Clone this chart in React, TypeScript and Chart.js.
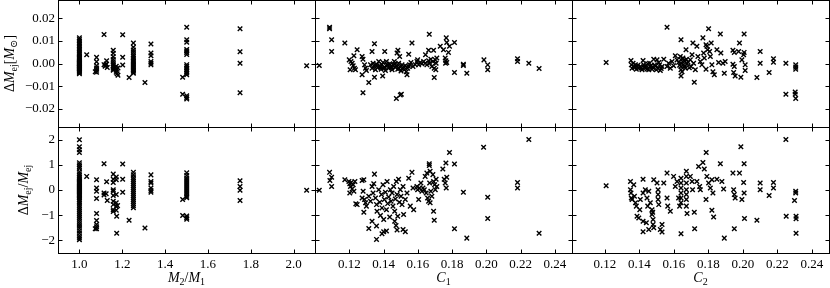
import React, { useEffect, useRef } from "react";
import { Chart, registerables } from "chart.js";
Chart.register(...registerables);

type Pt = [number, number];

// ---- data: mass ratio M2/M1 vs absolute ejecta-mass difference
const ratioAbsPts: Pt[] = [
  [1.0,0.0113],[1.0,0.0106],[1.0,0.0099],[1.0,0.0092],[1.0,0.0085],[1.0,0.0078],[1.0,0.0071],[1.0,0.0064],[1.0,0.0057],[1.0,0.005],[1.0,0.0044],[1.0,0.0038],[1.0,0.0032],[1.0,0.0027],[1.0,0.0022],[1.0,0.0018],[1.0,0.0014],[1.0,0.001],[1.0,0.0006],[1.0,0.0003],[1.0,0],[1.0,-0.0003],[1.0,-0.0006],[1.0,-0.0009],[1.0,-0.0012],[1.0,-0.0015],[1.0,-0.0018],[1.0,-0.0021],[1.0,-0.0024],[1.0,-0.0028],[1.0,-0.0032],[1.0,-0.0036],[1.0,-0.004],[1.0,-0.0045],
  [1.034,0.0039],
  [1.08,0.0027],[1.08,0.0008],[1.08,-0.001],[1.08,-0.002],[1.08,-0.003],[1.08,-0.0038],[1.074,-0.0036],
  [1.115,0.0128],[1.115,-0.0005],[1.12,-0.0012],[1.127,0.0012],[1.125,-0.0002],[1.13,-0.0018],[1.122,-0.0008],
  [1.158,0.0058],[1.158,0.0045],[1.158,0.003],[1.158,0.0018],[1.158,0.0008],[1.158,-0.0002],[1.158,-0.001],[1.158,-0.0018],[1.158,-0.0025],[1.158,-0.003],
  [1.172,-0.0012],[1.172,-0.0022],[1.172,-0.003],[1.172,-0.0038],[1.176,-0.0045],[1.18,-0.0052],[1.18,-0.002],
  [1.202,0.0127],[1.202,0.0028],[1.202,-0.0007],
  [1.232,-0.0062],
  [1.252,0.009],[1.252,0.0072],[1.252,0.006],[1.252,0.005],[1.252,0.004],[1.252,0.0032],[1.252,0.0024],[1.252,0.0016],[1.252,0.001],[1.252,0.0004],[1.252,-0.0002],[1.252,-0.0008],[1.252,-0.0014],[1.252,-0.002],[1.252,-0.0026],[1.252,-0.0032],[1.252,-0.0038],[1.252,-0.0043],
  [1.306,-0.0084],
  [1.334,0.0086],[1.334,0.0046],[1.334,0.0034],[1.334,0.0009],[1.334,0.0001],[1.334,-0.0006],
  [1.482,-0.0061],[1.482,-0.0136],
  [1.501,0.016],[1.501,0.0105],[1.501,0.0094],[1.501,0.0062],[1.501,0.0055],[1.501,0.0048],[1.501,0.004],[1.501,-0.0005],[1.501,-0.0012],[1.501,-0.002],[1.501,-0.0028],[1.501,-0.0035],[1.501,-0.0042],[1.501,-0.005],[1.501,-0.0142],[1.501,-0.015],[1.501,-0.0157],
  [1.75,0.0153],[1.75,0.0052],[1.75,0.0001],[1.75,-0.0129],
  [2.061,-0.001],
];

// ---- mass ratio vs relative ejecta-mass difference
const ratioRelPts: Pt[] = [
  [1.0,1.99],[1.0,1.72],[1.0,1.6],[1.0,1.49],[1.0,1.08],[1.0,1.0],[1.0,0.92],[1.0,0.85],[1.0,0.72],[1.0,0.64],[1.0,0.56],[1.0,0.5],[1.0,0.45],[1.0,0.4],[1.0,0.35],[1.0,0.3],[1.0,0.26],[1.0,0.22],[1.0,0.18],[1.0,0.14],[1.0,0.1],[1.0,0.06],[1.0,0.02],[1.0,-0.02],[1.0,-0.06],[1.0,-0.1],[1.0,-0.14],[1.0,-0.18],[1.0,-0.22],[1.0,-0.27],[1.0,-0.32],[1.0,-0.38],[1.0,-0.45],[1.0,-0.52],[1.0,-0.6],[1.0,-0.68],[1.0,-0.76],[1.0,-0.84],[1.0,-0.92],[1.0,-1.0],[1.0,-1.08],[1.0,-1.16],[1.0,-1.25],[1.0,-1.34],[1.0,-1.43],[1.0,-1.52],[1.0,-1.62],[1.0,-1.72],[1.0,-1.82],[1.0,-1.9],[1.0,-1.97],
  [1.034,0.54],
  [1.08,0.41],[1.08,0.08],[1.08,-0.05],[1.08,-0.34],[1.08,-0.93],[1.08,-1.21],[1.08,-1.37],[1.08,-1.46],[1.08,-1.54],[1.074,-1.54],
  [1.115,1.04],[1.115,-0.12],[1.115,-0.2],[1.127,0.33],[1.125,-0.15],[1.13,-0.42],
  [1.158,0.63],[1.158,0.43],[1.158,0.3],[1.158,0.01],[1.158,-0.05],[1.158,-0.22],[1.158,-0.45],[1.158,-0.58],[1.158,-0.78],[1.158,-0.85],
  [1.172,0.52],[1.172,0.41],[1.172,-0.18],[1.172,-0.51],[1.172,-0.65],[1.172,-0.8],[1.174,-1.04],[1.174,-1.72],[1.178,-0.62],
  [1.202,1.03],[1.202,0.43],[1.202,-0.09],
  [1.232,-1.2],
  [1.252,0.7],[1.252,0.6],[1.252,0.5],[1.252,0.42],[1.252,0.34],[1.252,0.26],[1.252,0.18],[1.252,0.1],[1.252,0.02],[1.252,-0.06],[1.252,-0.14],[1.252,-0.22],[1.252,-0.3],[1.252,-0.38],[1.252,-0.46],[1.252,-0.54],[1.252,-0.62],[1.252,-0.7],
  [1.306,-1.51],
  [1.334,0.6],[1.334,0.34],[1.334,0.28],[1.334,0.08],[1.334,-0.02],[1.334,-0.09],
  [1.482,-0.38],[1.482,-1.01],
  [1.501,0.68],[1.501,0.58],[1.501,0.48],[1.501,0.4],[1.501,0.32],[1.501,0.24],[1.501,0.16],[1.501,0.08],[1.501,0.0],[1.501,-0.08],[1.501,-0.16],[1.501,-0.25],[1.501,-0.31],[1.501,-1.03],[1.501,-1.1],[1.501,-1.16],
  [1.75,0.37],[1.75,0.14],[1.75,-0.01],[1.75,-0.42],
  [2.061,-0.01],
];

// ---- compactness C1 vs absolute difference
const c1AbsPts: Pt[] = [
  [0.1025,-0.0009],[0.1085,0.016],[0.1085,0.0153],[0.1097,0.0105],[0.1097,0.0053],[0.1174,0.009],
  [0.12,0.0016],[0.121,0.0009],[0.1205,-0.0028],[0.1217,0.0001],[0.1223,-0.001],[0.123,-0.0021],
  [0.1227,0.0034],[0.1246,0.0061],[0.1236,-0.0028],
  [0.1275,0.0031],[0.128,0.0019],[0.1275,-0.005],[0.128,-0.0129],[0.1289,-0.0006],[0.1295,-0.0021],[0.13,-0.0031],
  [0.1314,-0.0084],[0.1333,0.0053],[0.1347,0.0087],[0.1347,-0.0061],
  [0.1324,-0.0006],[0.1333,-0.0021],[0.1339,0.0001],[0.1347,-0.0013],[0.1353,-0.0028],[0.1359,-0.0003],[0.1366,-0.0018],[0.1372,0.0009],[0.1378,-0.001],[0.1386,-0.0025],[0.1391,-0.0006],[0.1397,0.0004],[0.1405,-0.0016],[0.1411,-0.0031],[0.1417,0.0009],[0.1424,-0.0009],[0.143,-0.0021],[0.1436,-0.0001],[0.1444,-0.0013],[0.145,-0.0028],[0.1455,-0.0006],[0.1463,0.0009],[0.1469,-0.0018],[0.1475,-0.001],[0.1483,-0.0025],[0.1488,0.0001],[0.1494,-0.0013],[0.1502,-0.0033],[0.1508,-0.0006],[0.1514,-0.0021],[0.1521,-0.0028],[0.1527,-0.001],[0.1533,-0.0036],[0.1541,-0.0021],[0.1552,-0.0006],[0.156,0.0004],[0.1572,-0.0013],
  [0.1355,-0.0009],[0.1382,-0.0016],[0.1402,-0.0022],[0.1421,-0.0004],[0.1447,-0.0019],[0.1466,-0.0003],[0.149,-0.0021],[0.1517,-0.0014],[0.1545,-0.0012],[0.1585,-0.0005],
  [0.1395,-0.0055],[0.1407,0.0053],
  [0.1479,0.0046],[0.1484,0.0058],[0.1494,0.0031],
  [0.1475,-0.0154],[0.1498,-0.0139],[0.1504,-0.0136],
  [0.1537,-0.005],[0.1547,0.0041],[0.1566,0.009],
  [0.1595,0.0009],[0.1599,0.0016],[0.1605,-0.0006],[0.1614,0.0004],[0.1624,-0.0001],[0.1634,0.0009],[0.1643,0.0001],[0.1653,-0.0006],[0.1663,0.0012],[0.1669,0.0001],[0.1676,0.0019],[0.1682,-0.0013],[0.1688,0.0009],[0.1696,-0.0021],[0.1702,0.0016],[0.1707,0.0001],[0.1711,0.0024],[0.1705,-0.0028],
  [0.1645,0.0039],[0.1663,0.0058],[0.1667,0.0129],
  [0.1692,0.0058],[0.1696,-0.0062],
  [0.1731,0.0076],[0.175,0.0061],[0.1766,0.0113],[0.1769,0.0093],[0.1779,0.0049],[0.1785,0.0076],[0.1814,0.0093],
  [0.176,0.0024],[0.1764,0.0012],[0.1769,0.0004],[0.1762,0.0001],
  [0.1814,-0.004],
  [0.1866,-0.0003],[0.1866,-0.0009],[0.1886,-0.0043],
  [0.1986,0.0016],[0.2008,-0.0006],[0.2008,-0.0028],
  [0.2182,0.0021],[0.2182,0.0009],
  [0.2248,0.0001],
  [0.2308,-0.0022],
];

// ---- compactness C1 vs relative difference
const c1RelPts: Pt[] = [
  [0.1025,-0.01],[0.1085,0.7],[0.1097,0.51],[0.1087,0.38],[0.1097,0.14],[0.1174,0.41],
  [0.1198,0.34],[0.1203,0.25],[0.1207,0.14],[0.1211,0.3],[0.1217,0.04],[0.1223,0.21],[0.1227,-0.05],[0.1233,0.34],[0.1203,-0.12],
  [0.1238,-0.55],[0.1246,-0.58],
  [0.1275,0.38],[0.1285,0.41],[0.1281,-0.05],[0.1275,-0.32],[0.1289,-0.38],[0.1295,-0.51],[0.13,-0.64],
  [0.1285,-0.88],[0.1314,-1.53],[0.1347,0.63],
  [0.1359,-1.96],[0.1333,-1.24],[0.1359,-1.43],
  [0.1314,-0.25],[0.1324,-0.45],[0.1333,0.14],[0.1339,-0.12],[0.1343,0.25],[0.1353,-0.32],[0.1359,-0.58],[0.1362,-0.84],[0.1372,0.01],[0.1378,-0.49],[0.1382,-1.01],[0.1388,-0.18],[0.1391,-0.71],[0.1397,0.21],[0.1401,-1.17],[0.1405,-0.38],[0.1411,-0.09],[0.1417,-0.78],[0.1421,0.34],[0.1424,-0.54],[0.143,-0.28],[0.1436,-1.07],[0.144,0.01],[0.1444,-0.45],[0.145,-0.12],[0.1455,-0.64],[0.1459,0.14],[0.1465,-0.84],[0.1469,-0.36],[0.1475,0.34],[0.1479,-0.18],[0.1483,-1.04],[0.1488,0.43],[0.1492,-0.49],[0.1498,0.01],[0.1502,-0.25],[0.1508,-0.58],[0.1514,0.14],[0.1517,-0.97],[0.1527,-0.38],[0.1537,-0.12],[0.1547,0.47],[0.1556,-0.64],[0.1566,0.7],[0.1572,0.08],[0.1576,-0.78],
  [0.1401,-1.66],[0.1391,-1.74],[0.1417,-1.63],
  [0.1465,-1.24],[0.1473,-1.41],[0.1479,-1.59],
  [0.1514,-1.57],[0.1527,-1.66],
  [0.1595,0.14],[0.1599,0.01],[0.1605,-0.38],[0.161,0.08],[0.1618,0.28],[0.1624,-0.05],[0.163,0.08],[0.1638,0.01],[0.1643,0.54],[0.1649,-0.12],[0.1653,0.67],[0.1657,-0.32],[0.1663,-0.45],[0.1669,0.28],[0.1672,-0.51],[0.1676,-0.05],[0.1682,-0.25],[0.1688,0.61],[0.1692,0.34],[0.1698,0.21],[0.1702,0.01],[0.1707,0.43],[0.1711,0.14],
  [0.1667,1.04],[0.1667,0.97],[0.1672,0.74],
  [0.1692,-0.84],[0.1696,-1.2],
  [0.1764,1.07],[0.1746,0.83],[0.1785,1.49],[0.1754,0.43],[0.176,0.28],[0.1766,0.08],[0.1769,0.51],
  [0.1814,1.03],[0.1814,-1.54],
  [0.1866,-0.09],[0.1886,-1.91],
  [0.1984,1.7],[0.2008,-0.29],[0.2008,-1.13],
  [0.2182,0.3],[0.2182,0.08],
  [0.2248,2.0],
  [0.2308,-1.72],
];

// ---- compactness C2 vs absolute difference
const c2AbsPts: Pt[] = [
  [0.1208,0.0004],
  [0.1352,0.0013],[0.1354,-0.0006],[0.1358,-0.0021],[0.1364,0.0001],[0.1368,-0.0013],[0.1378,-0.0006],[0.1383,-0.0025],[0.1387,-0.0013],[0.1397,-0.0021],[0.1406,-0.0013],[0.1416,-0.0028],[0.1422,0.0013],[0.1426,-0.0006],[0.1435,-0.0021],[0.1441,-0.001],[0.1449,-0.0001],[0.1455,-0.0028],[0.146,0.0001],[0.1464,-0.0013],[0.1474,-0.0025],[0.1484,0.0019],[0.1489,-0.0007],[0.1499,-0.0028],[0.1503,0.0016],[0.1509,-0.0021],[0.1518,-0.0006],[0.1522,-0.0031],[0.1532,-0.0013],[0.1542,0.0019],
  [0.1373,-0.0018],[0.1392,-0.0008],[0.1411,-0.002],[0.1431,-0.0015],[0.1445,-0.0024],[0.1469,-0.0008],[0.1478,-0.0018],[0.1494,-0.0012],[0.1513,0.0004],[0.1527,-0.0022],
  [0.1561,0.016],[0.1561,-0.0013],[0.157,0.0001],[0.158,-0.0021],[0.159,0.0009],[0.1599,-0.001],
  [0.1609,0.0034],[0.1619,0.0016],
  [0.1642,0.0105],[0.1642,-0.0055],[0.1638,0.0031],[0.1642,0.0016],[0.1642,0.0001],[0.1642,-0.0013],[0.1642,-0.0028],[0.1648,-0.0036],
  [0.1628,0.0005],[0.1634,-0.0008],[0.1659,0.0014],[0.1665,-0.0012],[0.1683,0.0006],[0.169,-0.0019],
  [0.1653,0.0024],[0.1657,-0.0006],[0.1663,0.0009],[0.1667,-0.0021],[0.1673,0.0019],[0.1677,-0.0001],[0.1671,0.0061],
  [0.1711,0.009],[0.1719,-0.0083],[0.1706,0.0039],[0.1715,0.0001],[0.1725,-0.0028],[0.1696,0.0016],[0.17,-0.0013],
  [0.1734,0.0076],[0.174,0.0031],[0.1754,0.0009],[0.1763,-0.0006],[0.1769,0.0113],[0.1773,0.0046],[0.1777,0.0024],[0.1787,0.0083],[0.1787,-0.0025],[0.1792,0.0076],[0.1796,0.0061],[0.1802,0.0153],[0.1808,0.0053],[0.1812,0.0031],[0.1817,0.009],[0.1821,-0.0006],[0.1827,-0.0036],[0.1835,-0.005],[0.185,0.0061],[0.186,0.0004],[0.187,0.013],[0.1873,0.0046],[0.1885,0.0001],[0.1893,-0.0043],[0.1898,0.0009],
  [0.1943,0.0058],[0.1951,0.0049],[0.1943,-0.0003],[0.1951,-0.0013],[0.1947,-0.004],[0.1956,-0.0055],
  [0.1976,0.0053],[0.1981,0.009],[0.1989,-0.0061],[0.1995,0.0016],[0.2005,0.0039],[0.2008,0.013],[0.2008,0.0049],[0.2014,-0.0006],[0.2014,-0.0031],
  [0.2082,-0.0062],[0.2101,0.0053],[0.2101,0.0001],
  [0.2153,-0.004],
  [0.2178,0.0021],[0.2178,0.0006],
  [0.225,0.0001],[0.225,-0.0136],
  [0.2307,-0.0006],[0.2307,-0.0016],[0.2307,-0.0025],[0.2304,-0.0126],[0.2304,-0.0136],[0.2307,-0.0154],
];

// ---- compactness C2 vs relative difference
const c2RelPts: Pt[] = [
  [0.1208,0.17],
  [0.1349,0.34],[0.1349,0.01],[0.1352,-0.12],[0.1354,-0.32],[0.1358,-0.38],
  [0.1368,0.21],[0.1372,-0.25],[0.1378,-0.51],[0.1383,-0.64],[0.1387,-1.04],[0.1397,-1.11],[0.1403,-0.78],[0.1406,-0.38],
  [0.1422,0.43],[0.1422,-0.12],[0.1422,-1.24],[0.1422,-1.66],
  [0.1435,0.01],[0.1445,-0.32],[0.1449,-0.64],[0.1441,-1.3],[0.1455,-0.05],[0.1455,-1.57],[0.1464,-0.51],
  [0.1474,-0.78],[0.1474,-0.97],[0.148,-1.17],[0.148,-1.37],[0.1484,-1.5],[0.1478,-0.88],
  [0.1484,0.41],[0.1503,0.28],[0.1509,0.01],[0.1509,-0.18],[0.1509,-0.38],[0.1513,-0.58],
  [0.1522,-1.57],[0.1532,-1.37],[0.1532,-1.67],
  [0.1542,0.28],[0.1561,0.67],[0.1561,-0.32],[0.1565,-0.64],[0.158,-0.84],
  [0.1599,0.54],[0.1609,0.14],[0.1619,0.34],[0.1628,-0.32],[0.1634,-0.64],
  [0.1642,0.47],[0.1642,0.28],[0.1642,0.08],[0.1642,-0.12],[0.1642,-0.32],[0.1642,-0.51],[0.1642,-1.74],
  [0.1673,0.74],[0.1673,0.54],[0.1673,0.28],[0.1673,0.01],[0.1673,-0.18],[0.1673,-0.38],[0.1673,-0.64],[0.1677,-0.93],
  [0.1696,0.54],[0.1706,0.34],[0.1709,0.01],[0.1719,-0.88],[0.1721,-1.54],
  [0.1734,0.34],[0.1744,0.93],[0.175,0.14],[0.1754,0.01],
  [0.1769,1.09],[0.1777,0.83],[0.1787,-0.38],[0.1788,1.49],
  [0.1792,0.54],[0.1802,0.28],[0.1812,0.08],[0.1821,0.41],[0.1827,-0.12],[0.1821,-0.8],[0.1831,-1.07],
  [0.185,0.43],[0.187,1.04],[0.1879,0.34],[0.1889,0.04],
  [0.1893,-1.91],
  [0.1943,0.67],[0.1947,0.01],[0.1951,-0.18],[0.1956,-0.32],
  [0.1951,-1.54],
  [0.1981,0.67],[0.1989,1.72],[0.1995,-0.38],[0.2005,0.3],[0.2008,1.04],[0.2008,-0.12],[0.201,-1.13],
  [0.2082,-1.2],
  [0.2101,0.28],[0.2101,0.01],
  [0.2153,-0.22],
  [0.2178,0.3],[0.2178,0.08],
  [0.225,2.0],[0.2252,-1.04],
  [0.23,-0.42],[0.2307,-0.05],[0.2307,-0.12],[0.2309,-1.04],[0.2309,-1.14],[0.2309,-1.72],
];

// ---- tick values
const ratioTicks = [1.0, 1.2, 1.4, 1.6, 1.8, 2.0];
const compTicks = [0.12, 0.14, 0.16, 0.18, 0.2, 0.22, 0.24];
const absTicks = [-0.02, -0.01, 0, 0.01, 0.02];
const relTicks = [-2, -1, 0, 1, 2];

const W = 830;
const H = 288;
const FONT = "'Liberation Serif', 'DejaVu Serif', serif";

type Seg = { t: string; it?: boolean; sub?: boolean };

const fmt = (v: number, dec: number) => Number(v).toFixed(dec).replace("-", "\u2212");

function drawRich(ctx: CanvasRenderingContext2D, segs: Seg[], cx: number, cy: number, rot: number, size: number) {
  ctx.save();
  ctx.translate(cx, cy);
  ctx.rotate(rot);
  ctx.fillStyle = "#000";
  ctx.textBaseline = "alphabetic";
  ctx.textAlign = "left";
  const font = (s: Seg) => `${s.it ? "italic " : ""}${s.sub ? Math.round(size * 0.7) : size}px ${FONT}`;
  let total = 0;
  const ws = segs.map((s) => {
    ctx.font = font(s);
    const w = ctx.measureText(s.t).width;
    total += w;
    return w;
  });
  let x = -total / 2;
  const base = size * 0.33;
  segs.forEach((s, i) => {
    ctx.font = font(s);
    ctx.fillText(s.t, x, base + (s.sub ? size * 0.22 : 0));
    x += ws[i];
  });
  ctx.restore();
}

interface PanelCfg {
  pts: Pt[];
  xMin: number; xMax: number; xTicks: number[]; xDec: number;
  yMin: number; yMax: number; yTicks: number[]; yDec: number;
  left: number; right: number; top: number; bottom: number;
  showX: boolean; showY: boolean;
  xTitle?: Seg[]; yTitle?: Seg[]; yTitleX?: number;
}

const cols = [
  { left: 58, right: 315 },
  { left: 315, right: 572 },
  { left: 572, right: 829 },
];
const rows = [
  { top: 0, bottom: 127 },
  { top: 127, bottom: 253 },
];

const absTitle: Seg[] = [{ t: "\u0394" }, { t: "M", it: true }, { t: "ej", sub: true }, { t: "[" }, { t: "M", it: true }, { t: "\u2299", sub: true }, { t: "]" }];
const relTitle: Seg[] = [{ t: "\u0394" }, { t: "M", it: true }, { t: "ej", sub: true }, { t: "/" }, { t: "M", it: true }, { t: "ej", sub: true }];

const panels: PanelCfg[] = [
  { pts: ratioAbsPts, xMin: 0.9, xMax: 2.1, xTicks: ratioTicks, xDec: 1, yMin: -0.028, yMax: 0.028, yTicks: absTicks, yDec: 2, ...cols[0], ...rows[0], showX: false, showY: true, yTitle: absTitle, yTitleX: 9 },
  { pts: c1AbsPts, xMin: 0.1, xMax: 0.25, xTicks: compTicks, xDec: 2, yMin: -0.028, yMax: 0.028, yTicks: absTicks, yDec: 2, ...cols[1], ...rows[0], showX: false, showY: false },
  { pts: c2AbsPts, xMin: 0.101, xMax: 0.25, xTicks: compTicks, xDec: 2, yMin: -0.028, yMax: 0.028, yTicks: absTicks, yDec: 2, ...cols[2], ...rows[0], showX: false, showY: false },
  { pts: ratioRelPts, xMin: 0.9, xMax: 2.1, xTicks: ratioTicks, xDec: 1, yMin: -2.5, yMax: 2.5, yTicks: relTicks, yDec: 0, ...cols[0], ...rows[1], showX: true, showY: true, yTitle: relTitle, yTitleX: 23,
    xTitle: [{ t: "M", it: true }, { t: "2", sub: true }, { t: "/" }, { t: "M", it: true }, { t: "1", sub: true }] },
  { pts: c1RelPts, xMin: 0.1, xMax: 0.25, xTicks: compTicks, xDec: 2, yMin: -2.5, yMax: 2.5, yTicks: relTicks, yDec: 0, ...cols[1], ...rows[1], showX: true, showY: false,
    xTitle: [{ t: "C", it: true }, { t: "1", sub: true }] },
  { pts: c2RelPts, xMin: 0.101, xMax: 0.25, xTicks: compTicks, xDec: 2, yMin: -2.5, yMax: 2.5, yTicks: relTicks, yDec: 0, ...cols[2], ...rows[1], showX: true, showY: false,
    xTitle: [{ t: "C", it: true }, { t: "2", sub: true }] },
];

function makeFramePlugin(cfg: PanelCfg) {
  return {
    id: "frame",
    afterDraw(chart: any) {
      const { ctx, chartArea: a } = chart;
      const xs = chart.scales.x;
      const ys = chart.scales.y;
      ctx.save();
      ctx.strokeStyle = "#000";
      ctx.lineWidth = 1;
      const L = Math.round(a.left) + 0.5;
      const R = Math.round(a.right) + 0.5;
      const T = Math.round(a.top) + 0.5;
      const B = Math.round(a.bottom) + 0.5;
      ctx.strokeRect(L, T, R - L, B - T);
      ctx.beginPath();
      const tl = 4;
      xs.ticks.forEach((t: any) => {
        const p = Math.round(xs.getPixelForValue(t.value)) + 0.5;
        ctx.moveTo(p, B); ctx.lineTo(p, B - tl);
        ctx.moveTo(p, T); ctx.lineTo(p, T + tl);
      });
      ys.ticks.forEach((t: any) => {
        const p = Math.round(ys.getPixelForValue(t.value)) + 0.5;
        ctx.moveTo(L, p); ctx.lineTo(L + tl, p);
        ctx.moveTo(R, p); ctx.lineTo(R - tl, p);
      });
      ctx.stroke();
      ctx.restore();
      if (cfg.xTitle) drawRich(ctx, cfg.xTitle, (a.left + a.right) / 2, 277.5, 0, 14);
      if (cfg.yTitle) drawRich(ctx, cfg.yTitle, cfg.yTitleX ?? 8, (a.top + a.bottom) / 2, -Math.PI / 2, 14);
    },
  };
}

function Panel({ cfg }: { cfg: PanelCfg }) {
  const ref = useRef<HTMLCanvasElement>(null);
  useEffect(() => {
    const canvas = ref.current;
    if (!canvas) return;
    const tickFont = { family: FONT, size: 13 };
    const resetPad = (s: any) => {
      s.paddingLeft = 0; s.paddingRight = 0; s.paddingTop = 0; s.paddingBottom = 0;
    };
    const chart = new Chart(canvas, {
      type: "scatter",
      data: {
        datasets: [
          {
            data: cfg.pts.map(([x, y]) => ({ x, y })),
            pointStyle: "crossRot",
            pointRadius: 3.2,
            pointBorderWidth: 1.4,
            borderColor: "#000",
            backgroundColor: "#000",
            pointBorderColor: "#000",
          } as any,
        ],
      },
      options: {
        responsive: false,
        animation: false,
        devicePixelRatio: 1,
        events: [],
        layout: { autoPadding: false, padding: { left: 0, bottom: 0, top: cfg.top, right: W - cfg.right } },
        plugins: { legend: { display: false }, tooltip: { enabled: false } },
        scales: {
          x: {
            type: "linear",
            position: "bottom",
            min: cfg.xMin,
            max: cfg.xMax,
            grid: { display: false, drawTicks: false, tickLength: 0 },
            border: { display: false },
            ticks: {
              display: cfg.showX, color: "#000", font: tickFont, padding: 4, maxRotation: 0, autoSkip: false,
              callback: (v: any) => fmt(v, cfg.xDec),
            },
            afterBuildTicks: (s: any) => { s.ticks = cfg.xTicks.map((value) => ({ value })); },
            afterFit: (s: any) => { s.height = H - cfg.bottom; resetPad(s); },
          },
          y: {
            type: "linear",
            position: "left",
            min: cfg.yMin,
            max: cfg.yMax,
            grid: { display: false, drawTicks: false, tickLength: 0 },
            border: { display: false },
            ticks: {
              display: cfg.showY, color: "#000", font: tickFont, padding: 3, autoSkip: false,
              callback: (v: any) => fmt(v, cfg.yDec),
            },
            afterBuildTicks: (s: any) => { s.ticks = cfg.yTicks.map((value) => ({ value })); },
            afterFit: (s: any) => { s.width = cfg.left; resetPad(s); },
          },
        },
      } as any,
      plugins: [makeFramePlugin(cfg)],
    });
    return () => chart.destroy();
  }, [cfg]);
  return (
    <canvas
      ref={ref}
      width={W}
      height={H}
      style={{ position: "absolute", left: 0, top: 0, width: W, height: H, pointerEvents: "none" }}
    />
  );
}

export default function App() {
  return (
    <div style={{ position: "absolute", left: 0, top: 0, width: W, height: H, background: "#fff", overflow: "hidden" }}>
      {panels.map((p, i) => (
        <Panel key={i} cfg={p} />
      ))}
    </div>
  );
}
